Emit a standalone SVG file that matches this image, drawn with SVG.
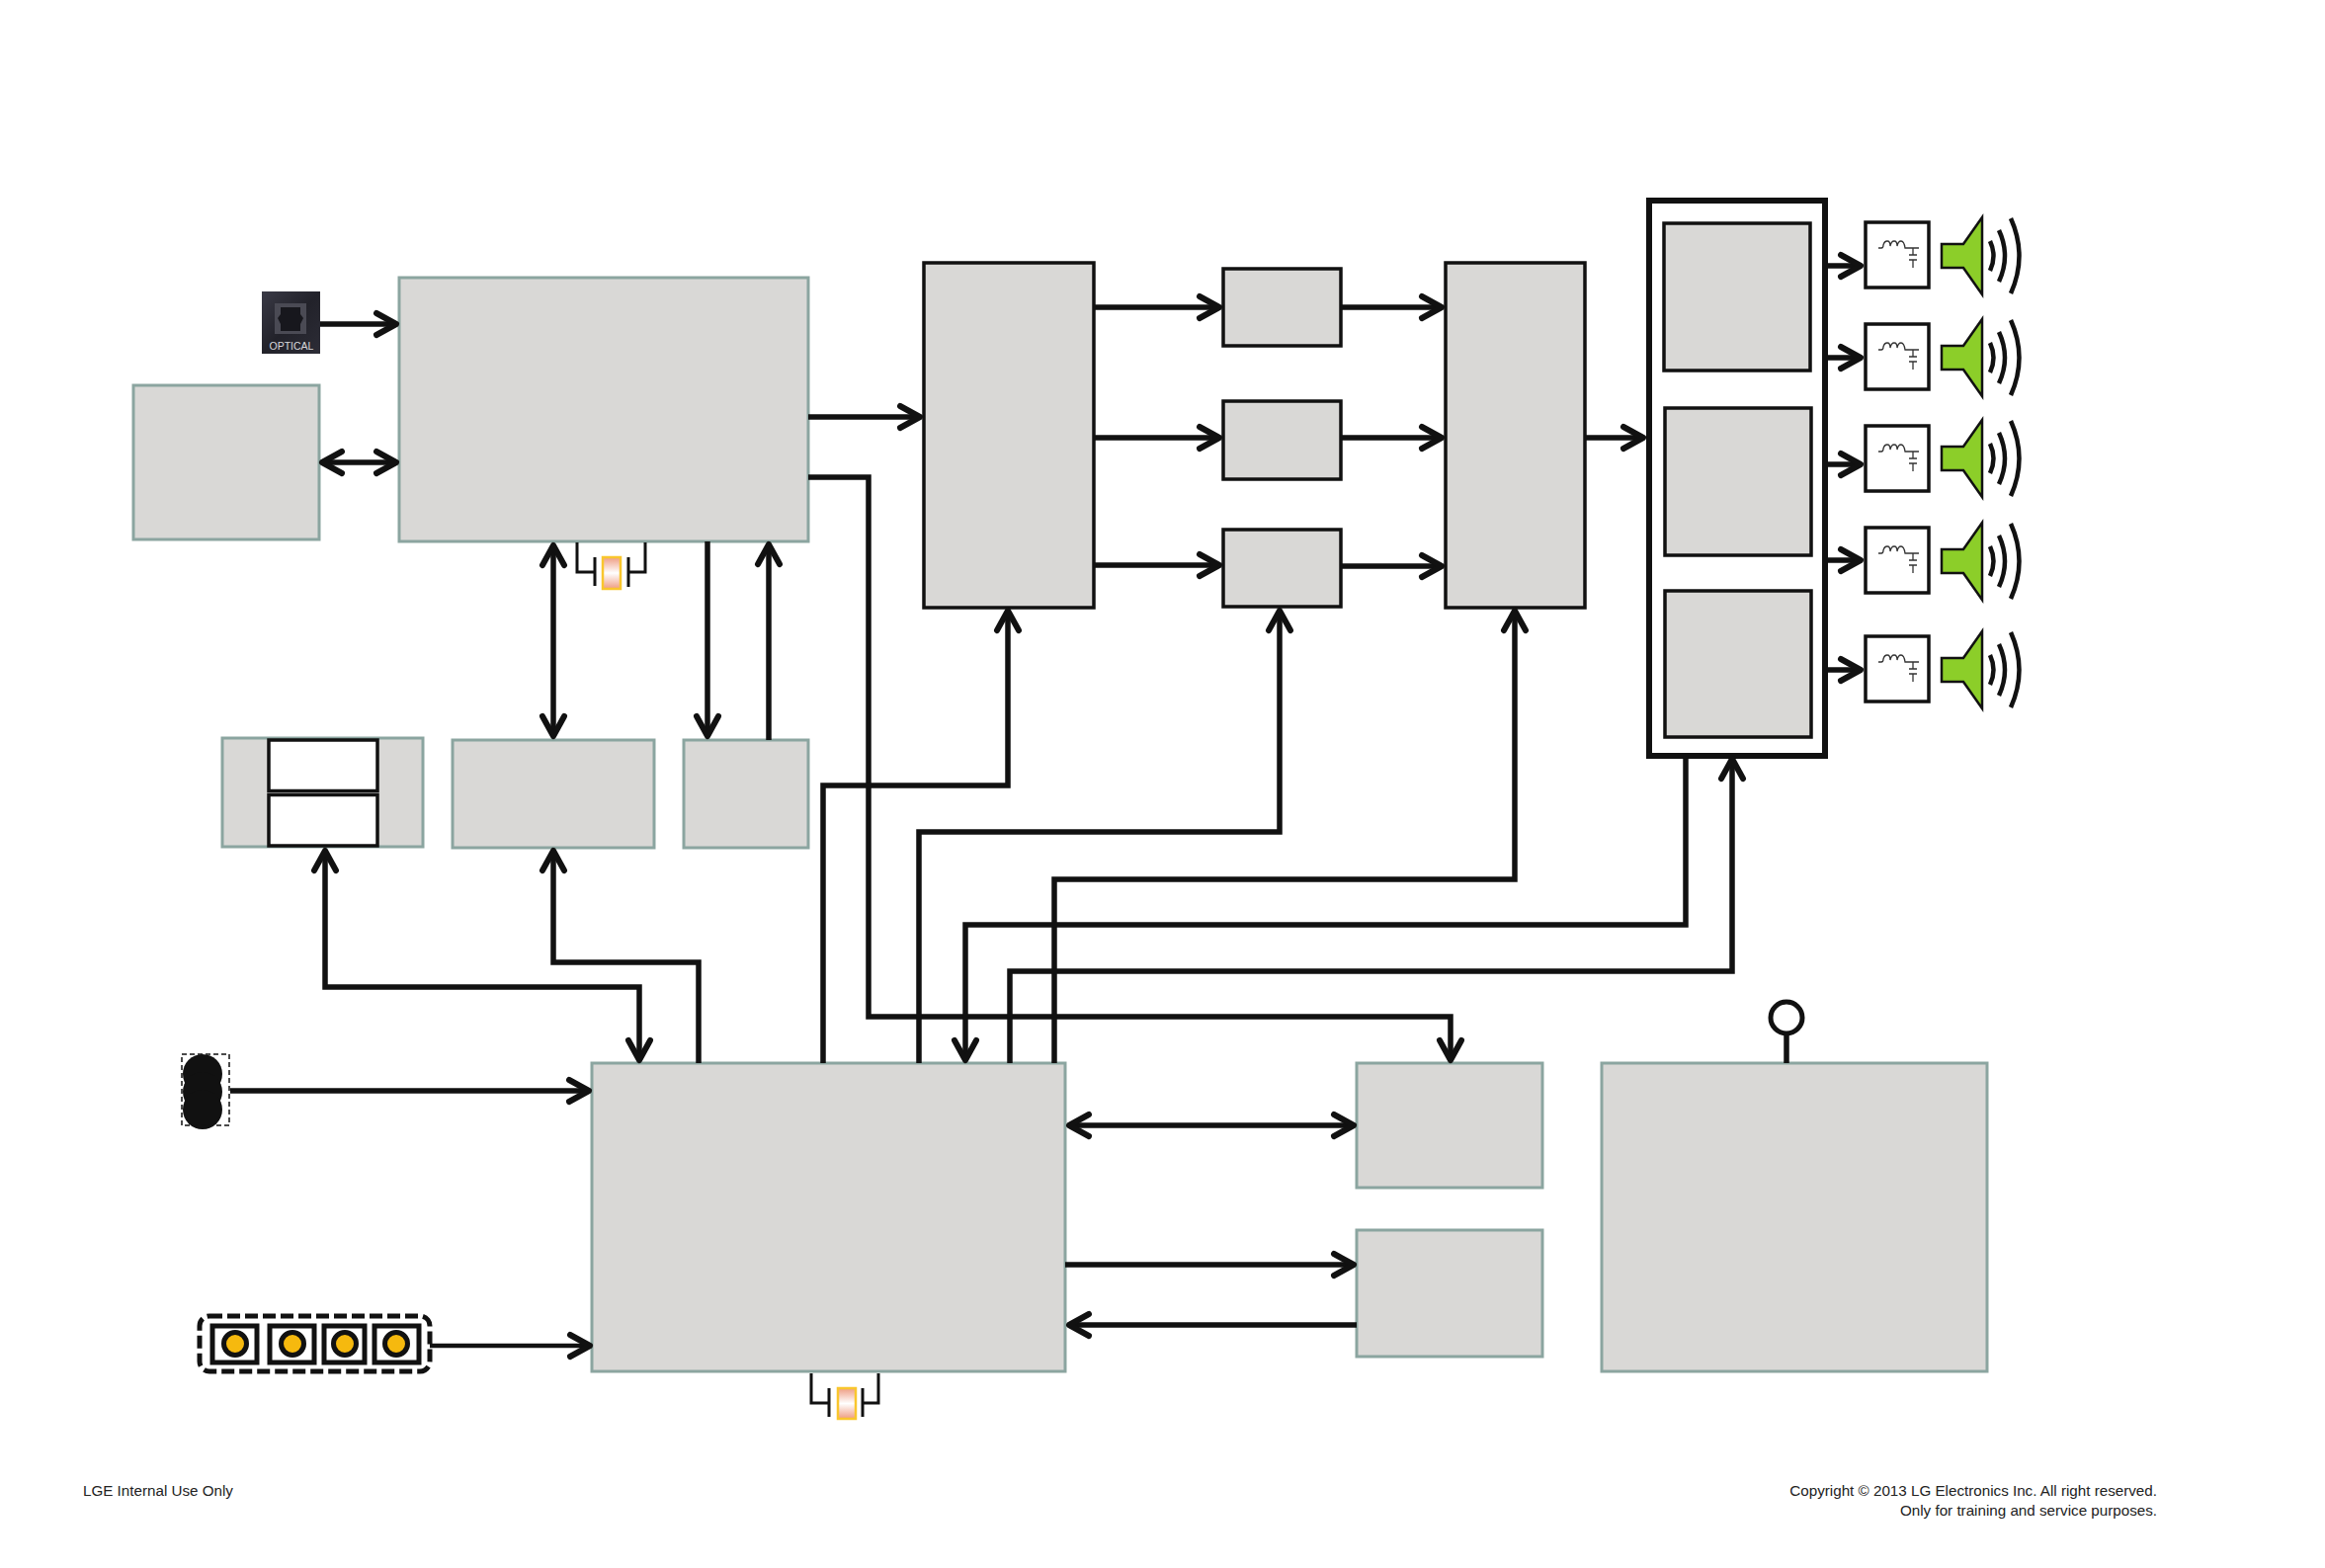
<svg xmlns="http://www.w3.org/2000/svg" width="2353" height="1587" viewBox="0 0 2353 1587">
<style>
.g{fill:#d9d8d6;stroke:#8ba5a0;stroke-width:3}
.b{fill:#d9d8d6;stroke:#111;stroke-width:3.5}
.w{fill:#fff;stroke:#111;stroke-width:3.5}
.c{fill:none;stroke:#111;stroke-width:5.5}
.a{marker-end:url(#h)}
.d{marker-start:url(#h);marker-end:url(#h)}
.x{fill:none;stroke:#111;stroke-width:3}
.t{font-family:"Liberation Sans",Arial,sans-serif;font-size:15.2px;fill:#222}
.btn{fill:#fff;stroke:#111;stroke-width:5}
.led{fill:#f6b90e;stroke:#111;stroke-width:5}
</style>
<defs>
<marker id="h" markerUnits="userSpaceOnUse" markerWidth="32" markerHeight="32" viewBox="0 0 32 32" refX="26" refY="16" orient="auto-start-reverse" overflow="visible">
<path d="M6,5 L26,16 L6,27" fill="none" stroke="#111" stroke-width="6" stroke-linecap="round" stroke-linejoin="round"/>
</marker>
<linearGradient id="xt" x1="0" y1="0" x2="0" y2="1">
<stop offset="0" stop-color="#ee9c82"/><stop offset=".5" stop-color="#fff"/><stop offset="1" stop-color="#ee9c82"/>
</linearGradient>
<linearGradient id="op" x1="0" y1="0" x2="1" y2="1">
<stop offset="0" stop-color="#3a3a46"/><stop offset=".5" stop-color="#22222a"/><stop offset="1" stop-color="#2c2c36"/>
</linearGradient>
<g id="filt" fill="none" stroke="#333" stroke-width="1.3">
<path d="M1901,26 H1904 Q1906,26 1906,23 Q1907,19 1910,19 Q1913,19 1913,24 Q1914,19 1917,19 Q1920,19 1920,24 Q1921,19 1924,19 Q1927,19 1928,26 H1942"/>
<path d="M1936,26 V33 M1932,33 H1940 M1932,38 H1940 M1936,38 V46"/>
</g>
<g id="spk">
<path d="M1965,-12 H1987 L2006,-39 V39 L1987,12 H1965 Z" fill="#8cce29" stroke="#111" stroke-width="2.5" stroke-linejoin="miter"/>
<path d="M2014,-15 Q2021,0 2014,15 M2023,-26 Q2035,0 2023,26 M2035,-38 Q2052,0 2035,38" fill="none" stroke="#111" stroke-width="4.5"/>
</g>
</defs>
<rect width="2353" height="1587" fill="#fff"/>

<g id="node-left"><rect class="g" x="135" y="390" width="188" height="156"/></g>
<g id="node-main-top"><rect class="g" x="404" y="281" width="414" height="267"/></g>
<g id="node-optical">
<rect x="265" y="295" width="59" height="63" fill="url(#op)"/>
<rect x="278" y="307" width="32" height="31" fill="#4a4a54"/>
<path d="M284,311 H304 V318 L307,322 L304,328 V335 H284 V328 L281,322 L284,318 Z" fill="#17171d"/>
<text x="295" y="354" text-anchor="middle" font-family="'Liberation Sans',Arial,sans-serif" font-size="10.5" fill="#d8d8dc">OPTICAL</text>
</g>
<g id="node-slot"><rect class="g" x="225" y="747" width="203" height="110"/><rect class="w" x="272" y="749" width="110" height="51.5"/><rect class="w" x="272" y="804.5" width="110" height="51.5"/></g>
<g id="node-mem1"><rect class="g" x="458" y="749" width="204" height="109"/></g>
<g id="node-mem2"><rect class="g" x="692" y="749" width="126" height="109"/></g>
<g id="node-mcu"><rect class="g" x="599" y="1076" width="479" height="312"/></g>
<g id="node-r1"><rect class="g" x="1373" y="1076" width="188" height="126"/></g>
<g id="node-r2"><rect class="g" x="1373" y="1245" width="188" height="128"/></g>
<g id="node-power"><rect class="g" x="1621" y="1076" width="390" height="312"/><circle cx="1808" cy="1030" r="16" fill="#fff" stroke="#111" stroke-width="5"/><path class="c" d="M1808,1046 V1076"/></g>
<g id="node-dsp1"><rect class="b" x="935" y="266" width="172" height="349"/></g>
<g id="node-b1"><rect class="b" x="1238" y="272" width="119" height="78"/></g>
<g id="node-b2"><rect class="b" x="1238" y="406" width="119" height="79"/></g>
<g id="node-b3"><rect class="b" x="1238" y="536" width="119" height="78"/></g>
<g id="node-dsp2"><rect class="b" x="1463" y="266" width="141" height="349"/></g>
<g id="node-amp">
<rect x="1669" y="203" width="178" height="562" fill="#fff" stroke="#111" stroke-width="6"/>
<rect class="b" x="1684" y="226" width="148" height="149"/>
<rect class="b" x="1685" y="413" width="148" height="149"/>
<rect class="b" x="1685" y="598" width="148" height="148"/>
</g>
<g id="node-filter1"><rect class="w" x="1888" y="225" width="64" height="66"/><use href="#filt" y="225"/></g>
<g id="node-filter2"><rect class="w" x="1888" y="328" width="64" height="66"/><use href="#filt" y="328"/></g>
<g id="node-filter3"><rect class="w" x="1888" y="431" width="64" height="66"/><use href="#filt" y="431"/></g>
<g id="node-filter4"><rect class="w" x="1888" y="534" width="64" height="66"/><use href="#filt" y="534"/></g>
<g id="node-filter5"><rect class="w" x="1888" y="644" width="64" height="66"/><use href="#filt" y="644"/></g>
<g id="node-spk1"><use href="#spk" y="259"/></g>
<g id="node-spk2"><use href="#spk" y="362"/></g>
<g id="node-spk3"><use href="#spk" y="464"/></g>
<g id="node-spk4"><use href="#spk" y="568"/></g>
<g id="node-spk5"><use href="#spk" y="678"/></g>
<g id="node-ir">
<circle cx="205" cy="1087" r="20" fill="#111"/><circle cx="205" cy="1105" r="20" fill="#111"/><circle cx="205" cy="1123" r="20" fill="#111"/>
<rect x="184" y="1067" width="48" height="72" fill="none" stroke="#111" stroke-width="1.5" stroke-dasharray="5 3"/>
</g>
<g id="node-keys">
<rect x="202" y="1332" width="233" height="56" rx="10" fill="none" stroke="#111" stroke-width="5" stroke-dasharray="13 5"/>
<rect class="btn" x="215" y="1342" width="45" height="37"/><circle class="led" cx="238" cy="1360" r="11.5"/>
<rect class="btn" x="273" y="1342" width="45" height="37"/><circle class="led" cx="296" cy="1360" r="11.5"/>
<rect class="btn" x="328" y="1342" width="41" height="37"/><circle class="led" cx="349" cy="1360" r="11.5"/>
<rect class="btn" x="379" y="1342" width="45" height="37"/><circle class="led" cx="401" cy="1360" r="11.5"/>
</g>
<g id="node-xtal1">
<path class="x" d="M584,549 V579 H602 M602,564 V593 M636,564 V594 M636,579 H653 V549"/>
<rect x="610" y="564" width="18" height="32" fill="url(#xt)" stroke="#f9c62d" stroke-width="2.5"/>
</g>
<g id="node-xtal2">
<path class="x" d="M821,1390 V1420 H839 M839,1405 V1434 M873,1405 V1434 M873,1420 H889 V1390"/>
<rect x="848" y="1405" width="18" height="31" fill="url(#xt)" stroke="#f9c62d" stroke-width="2.5"/>
</g>

<g id="connectors">
<path class="c a" d="M324,328 H401"/>
<path class="c d" d="M326,468 H401"/>
<path class="c a" d="M818,422 H931"/>
<path class="c a" d="M818,483 H879 V1029 H1468 V1073"/>
<path class="c d" d="M560,552 V745"/>
<path class="c a" d="M716,548 V745"/>
<path class="c a" d="M778,749 V551"/>
<path class="c a" d="M833,1076 V795 H1020 V618"/>
<path class="c a" d="M930,1076 V842 H1295 V618"/>
<path class="c a" d="M1067,1076 V890 H1533 V618"/>
<path class="c a" d="M1706,765 V936 H977 V1073"/>
<path class="c a" d="M1022,1076 V983 H1753 V768"/>
<path class="c d" d="M329,861 V999 H647 V1073"/>
<path class="c a" d="M707,1076 V974 H560 V861"/>
<path class="c a" d="M233,1104 H596"/>
<path class="c a" style="stroke-width:4.5" d="M435,1362 H597"/>
<path class="c d" d="M1082,1139 H1370"/>
<path class="c a" d="M1078,1280 H1370"/>
<path class="c a" d="M1373,1341 H1082"/>
<path class="c a" d="M1107,311 H1234"/>
<path class="c a" d="M1107,443 H1234"/>
<path class="c a" d="M1107,572 H1234"/>
<path class="c a" d="M1358,311 H1459"/>
<path class="c a" d="M1358,443 H1459"/>
<path class="c a" d="M1358,573 H1459"/>
<path class="c a" d="M1604,443 H1663"/>
<path class="c a" d="M1850,269 H1883"/>
<path class="c a" d="M1850,362 H1883"/>
<path class="c a" d="M1850,470 H1883"/>
<path class="c a" d="M1850,567 H1883"/>
<path class="c a" d="M1850,678 H1883"/>
</g>

<g id="footer">
<text class="t" x="84" y="1514">LGE Internal Use Only</text>
<text class="t" x="2183" y="1514" text-anchor="end">Copyright © 2013 LG Electronics Inc. All right reserved.</text>
<text class="t" x="2183" y="1534" text-anchor="end">Only for training and service purposes.</text>
</g>
</svg>
